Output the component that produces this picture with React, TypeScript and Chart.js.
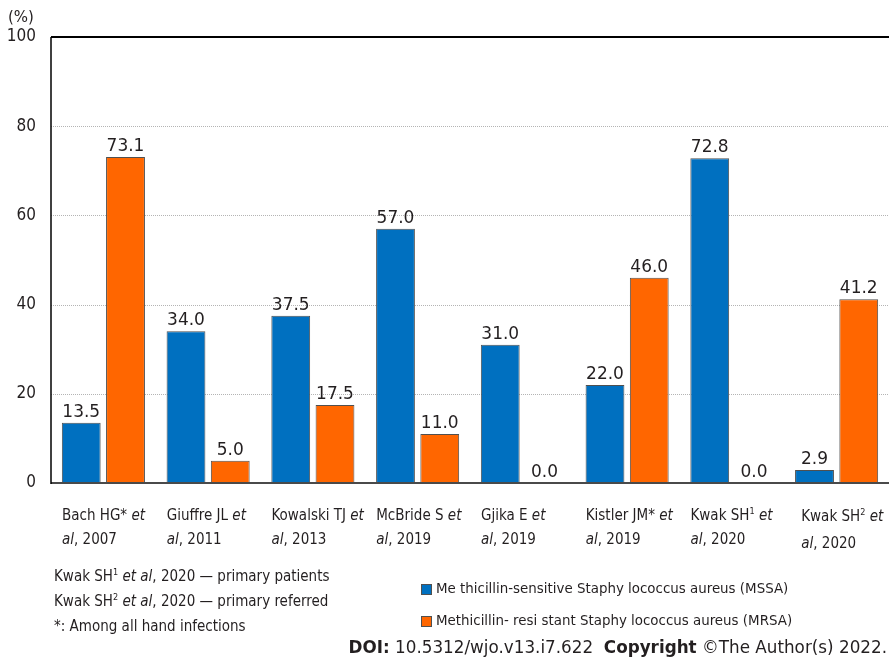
import React, { useEffect, useRef } from "react";
import { Chart, registerables } from "chart.js";

Chart.register(...registerables);

// Categories: line 1 and line 2 of each label. Markup: _x_ italic, ^n superscript
const categoryLine1 = [
  "Bach HG* _et_",
  "Giuffre JL _et_",
  "Kowalski TJ _et_",
  "McBride S _et_",
  "Gjika E _et_",
  "Kistler JM* _et_",
  "Kwak SH^1 _et_",
  "Kwak SH^2 _et_",
];
const categoryLine2 = [
  "_al_, 2007",
  "_al_, 2011",
  "_al_, 2013",
  "_al_, 2019",
  "_al_, 2019",
  "_al_, 2019",
  "_al_, 2020",
  "_al_, 2020",
];
const mssaValues = [13.5, 34.0, 37.5, 57.0, 31.0, 22.0, 72.8, 2.9];
const mrsaValues = [73.1, 5.0, 17.5, 11.0, 0.0, 46.0, 0.0, 41.2];
const seriesNames = [
  "Me thicillin-sensitive Staphy lococcus aureus (MSSA)",
  "Methicillin- resi stant Staphy lococcus aureus (MRSA)",
];
const yTicks = [0, 20, 40, 60, 80, 100];

const FONT = "'DejaVu Sans', sans-serif";
const CFONT = "'DejaVu Sans Condensed', 'DejaVu Sans', sans-serif";
const BLUE = "#0070c0";
const ORANGE = "#ff6600";
const TEXT = "#231f20";

type Seg = { text: string; italic: boolean; sup: boolean };

function parseRich(s: string): Seg[] {
  const segs: Seg[] = [];
  let i = 0;
  let buf = "";
  let italic = false;
  const flush = () => {
    if (buf) segs.push({ text: buf, italic, sup: false });
    buf = "";
  };
  while (i < s.length) {
    const c = s[i];
    if (c === "_") {
      flush();
      italic = !italic;
      i++;
    } else if (c === "^") {
      flush();
      segs.push({ text: s[i + 1], italic, sup: true });
      i += 2;
    } else {
      buf += c;
      i++;
    }
  }
  flush();
  return segs;
}

function drawRich(ctx: CanvasRenderingContext2D, s: string, x: number, y: number, size: number) {
  let cx = x;
  for (const seg of parseRich(s)) {
    const sz = seg.sup ? Math.round(size * 0.6) : size;
    ctx.font = `${seg.italic ? "italic " : ""}${sz}px ${CFONT}`;
    const yy = seg.sup ? y - size * 0.42 : y;
    ctx.fillText(seg.text, cx, yy);
    cx += ctx.measureText(seg.text).width;
  }
}

const customPlugin = {
  id: "custom",
  beforeDatasetsDraw(chart: any) {
    const { ctx, chartArea, scales } = chart;
    const y = scales.y;
    ctx.save();
    ctx.strokeStyle = "#b4b4b4";
    ctx.lineWidth = 1;
    ctx.setLineDash([1, 1]);
    for (const t of yTicks) {
      if (t === 0 || t === 100) continue;
      const py = Math.round(y.getPixelForValue(t)) + 0.5;
      ctx.beginPath();
      ctx.moveTo(chartArea.left, py);
      ctx.lineTo(chartArea.right, py);
      ctx.stroke();
    }
    ctx.restore();
  },
  afterDatasetsDraw(chart: any) {
    const { ctx, chartArea, scales } = chart;
    const x = scales.x;
    const y = scales.y;
    ctx.save();
    const pTop = y.getPixelForValue(100);
    ctx.strokeStyle = "#000";
    ctx.lineWidth = 2;
    ctx.beginPath();
    ctx.moveTo(chartArea.left, pTop);
    ctx.lineTo(chartArea.right, pTop);
    ctx.stroke();
    const pBot = y.getPixelForValue(0);
    ctx.strokeStyle = "#4a4a4a";
    ctx.lineWidth = 2;
    ctx.beginPath();
    ctx.moveTo(chartArea.left, pBot);
    ctx.lineTo(chartArea.right, pBot);
    ctx.stroke();
    ctx.strokeStyle = "#000";
    ctx.lineWidth = 1.5;
    ctx.beginPath();
    ctx.moveTo(chartArea.left, pTop);
    ctx.lineTo(chartArea.left, pBot + 1);
    ctx.stroke();

    // value labels
    ctx.fillStyle = TEXT;
    ctx.font = `17px ${FONT}`;
    ctx.textAlign = "center";
    ctx.textBaseline = "alphabetic";
    chart.data.datasets.forEach((ds: any, di: number) => {
      const meta = chart.getDatasetMeta(di);
      meta.data.forEach((bar: any, i: number) => {
        const v = ds.data[i] as number;
        ctx.fillText(v.toFixed(1), bar.x, bar.y - 6);
      });
    });

    // category labels
    ctx.textAlign = "left";
    const catW = (chartArea.right - chartArea.left) / categoryLine1.length;
    categoryLine1.forEach((l1, i) => {
      const cx = x.getPixelForValue(i);
      const lx = cx - catW * 0.4 + 0.5;
      const last = i === categoryLine1.length - 1;
      drawRich(ctx, l1, lx + (last ? 6 : 0), pBot + 37 + (last ? 1 : 0), 15);
      drawRich(ctx, categoryLine2[i], lx + (last ? 6 : 0), pBot + 61 + (last ? 4 : 0), 15);
    });
    ctx.restore();
  },
};

export default function App() {
  const ref = useRef<HTMLCanvasElement | null>(null);
  useEffect(() => {
    if (!ref.current) return;
    const chart = new Chart(ref.current, {
      type: "bar",
      data: {
        labels: categoryLine1.map((l, i) => (l + " " + categoryLine2[i]).replace(/[_^]/g, "")),
        datasets: [
          {
            label: seriesNames[0],
            data: mssaValues,
            backgroundColor: BLUE,
            borderColor: "#505050",
            borderWidth: 1,
            categoryPercentage: 0.845,
            barPercentage: 0.877,
          },
          {
            label: seriesNames[1],
            data: mrsaValues,
            backgroundColor: ORANGE,
            borderColor: "#505050",
            borderWidth: 1,
            categoryPercentage: 0.845,
            barPercentage: 0.877,
          },
        ],
      },
      options: {
        responsive: false,
        animation: false,
        events: [],
        layout: { padding: { top: 37, right: 0, left: 0, bottom: 0 } },
        plugins: { legend: { display: false }, tooltip: { enabled: false } },
        scales: {
          x: {
            grid: { display: false },
            border: { display: false },
            ticks: { display: false },
            afterFit: (s: any) => {
              s.height = 661 - 483;
            },
          },
          y: {
            min: 0,
            max: 100,
            afterBuildTicks: (s: any) => {
              s.ticks = yTicks.map((v) => ({ value: v }));
            },
            grid: { display: false, drawTicks: false },
            border: { display: false },
            ticks: {
              color: TEXT,
              font: { family: CFONT, size: 17 },
              padding: 15,
            },
            afterFit: (s: any) => {
              s.width = 51;
            },
          },
        },
      },
      plugins: [customPlugin],
    });
    return () => chart.destroy();
  }, []);

  const sq = (c: string, top: number) => (
    <div
      style={{
        position: "absolute",
        left: 421,
        top,
        width: 9,
        height: 9,
        background: c,
        border: "1px solid #505050",
      }}
    />
  );
  const supStyle: React.CSSProperties = { fontSize: 9, position: "relative", top: -6 };

  return (
    <div
      style={{
        position: "absolute",
        left: 0,
        top: 0,
        width: 889,
        height: 661,
        background: "#fff",
        fontFamily: CFONT,
        color: TEXT,
        overflow: "hidden",
      }}
    >
      <canvas ref={ref} width={889} height={661} style={{ position: "absolute", left: 0, top: 0 }} />
      <div style={{ position: "absolute", left: 8, top: 8, fontSize: 15, fontFamily: FONT }}>(%)</div>
      <div style={{ position: "absolute", left: 54, top: 565, fontSize: 15, lineHeight: "22.8px", whiteSpace: "nowrap" }}>
        <div>
          Kwak SH<span style={supStyle}>1</span> <i>et al</i>, 2020 — primary patients
        </div>
        <div>
          Kwak SH<span style={supStyle}>2</span> <i>et al</i>, 2020 — primary referred
        </div>
        <div>*: Among all hand infections</div>
      </div>
      {sq(BLUE, 584)}
      {sq(ORANGE, 616)}
      <div style={{ position: "absolute", left: 436, top: 579, fontSize: 14.9, whiteSpace: "nowrap" }}>
        {seriesNames[0]}
      </div>
      <div style={{ position: "absolute", left: 436, top: 611, fontSize: 14.9, whiteSpace: "nowrap" }}>
        {seriesNames[1]}
      </div>
      <div
        style={{
          position: "absolute",
          right: 2,
          top: 637,
          fontSize: 16.8,
          whiteSpace: "nowrap",
          fontFamily: FONT,
        }}
      >
        <b>DOI:</b> 10.5312/wjo.v13.i7.622&nbsp;&nbsp;<b>Copyright</b> ©The Author(s) 2022.
      </div>
    </div>
  );
}
